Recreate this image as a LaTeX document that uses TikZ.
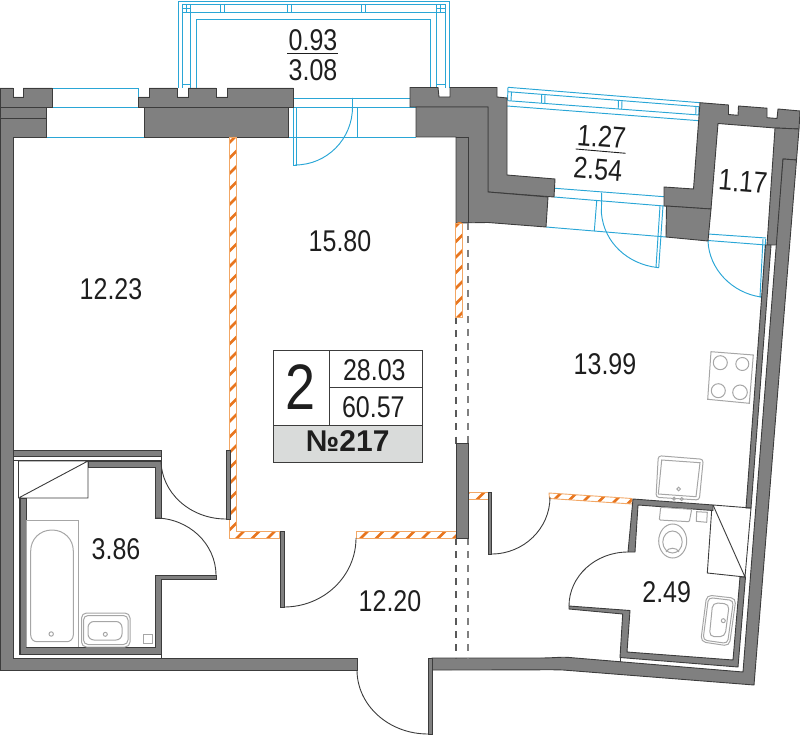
\documentclass[tikz,border=0pt]{standalone}
\usepackage{fontspec}
\setmainfont{Liberation Sans}
\usetikzlibrary{calc}
\definecolor{wallgray}{HTML}{808080}
\definecolor{walledge}{HTML}{3C3C3C}
\definecolor{planblue}{HTML}{2AA6D6}
\definecolor{fixgray}{HTML}{A6A6A6}
\definecolor{hatchorange}{HTML}{E8751E}
\definecolor{hatchedge}{HTML}{F2A765}
\definecolor{labelgray}{HTML}{D9DBDA}
\definecolor{inktext}{HTML}{1E1E1E}
\tikzset{
  wall/.style={fill=wallgray,draw=walledge,line width=0.9pt,line join=miter},
  bl/.style={draw=planblue,line width=0.95pt},
  thinline/.style={draw=walledge,line width=0.9pt},
  arcline/.style={draw=walledge,line width=0.9pt},
  fixture/.style={draw=fixgray,line width=1pt},
  dashA/.style={draw=walledge!85!white,line width=1.3pt,dash pattern=on 7pt off 6.3pt},
  dashB/.style={draw=wallgray,line width=2pt,dash pattern=on 7pt off 6.3pt},
  lab/.style={font=\fontsize{25}{25}\selectfont,text=inktext,inner sep=0pt,anchor=center},
  tall/.style={lab,yscale=1.2},
}
\newcommand{\doorarc}[4][arcline]{\draw[#1] #2 .. controls ($#2!0.5523!#3$) and ($#4!0.5523!#3$) .. #4;}
\newcommand{\hatched}[1]{%
  \begin{scope}\clip #1;
    \foreach \hc in {310,325.5,...,1300}{\draw[hatchorange,line width=2.7pt] (0,\hc) -- (\hc,0);}
  \end{scope}
  \draw[hatchedge,line width=0.9pt] #1;}
\begin{document}
\begin{tikzpicture}[x=1pt,y=-1pt]
\useasboundingbox (0,0) rectangle (800,735);
% --- balcony 1
\draw[bl] (178,88) -- (178,1) -- (449,1) -- (449,88);
\draw[bl] (182,88) -- (182,4) -- (445,4) -- (445,88);
\draw[bl] (190.5,88) -- (190.5,12.7) -- (436,12.7) -- (436,88);
\draw[bl] (182,12.7) -- (190.5,12.7) (190.5,4) -- (190.5,12.7) (436,4) -- (436,12.7) (436,12.7) -- (445,12.7);
\draw[bl] (186.5,4) -- (186.5,12.7) (182,8.5) -- (190.5,8.5) (440.5,4) -- (440.5,12.7) (436,8.5) -- (445,8.5);
\draw[bl] (182,84) -- (190.5,84) (436,84) -- (445,84);
\draw[bl] (196.7,88) -- (196.7,19) -- (430,19) -- (430,88);
\draw[bl] (220.7,4) -- (220.7,12.7) (224,4) -- (224,12.7) (287.5,4) -- (287.5,12.7) (291.7,4) -- (291.7,12.7) (361.7,4) -- (361.7,12.7) (365.7,4) -- (365.7,12.7);
% --- top window and entry door to balcony 1
\draw[bl] (52,88) -- (138.5,88) -- (138.5,97);
\draw[bl] (46,107) -- (144,107) (46,137) -- (144,137);
\draw[bl] (288,98) -- (410,98) (288,107) -- (416,107) (288,137) -- (416,137);
\draw[bl] (357,107) -- (357,137);
\draw[bl] (293,107) -- (293,165) -- (296,165) -- (296,107);
\draw[bl] (352.5,98) -- (352.5,107) .. controls (352.5,139) and (327,165) .. (295,165);
% --- balcony 2
\draw[bl] (508,87.3) -- (700,102.7) (508,91.7) -- (699,106.7) (508,100.7) -- (699,115) (507,106) -- (699,120.7);
\draw[bl] (508,87.3) -- (507.5,100.7) (511.5,92) -- (511,100.7) (541.7,94.5) -- (541.5,103) (545,94.7) -- (544.8,103.5) (618.5,100.5) -- (618.2,109) (622,100.8) -- (621.7,109.3) (696,106.5) -- (695.7,115) (699,106.7) -- (698.7,115);
\draw[bl] (555,188.3) -- (664,196.7) (554,197) -- (664,206) (546,227) -- (666,237);
\draw[bl] (596.7,201) -- (594.3,231) (601.7,192.7) -- (601.4,213);
\draw[bl] (660,206) -- (656,267.3) -- (658.7,267.7) -- (663,206);
\draw[bl] (601.4,213) .. controls (604,243) and (628,264) .. (657,267.5);
\draw[bl] (708,234) -- (766,238) (708,240.5) -- (766,245);
\draw[bl] (763,239) -- (760,297) -- (762,297) -- (765.6,239);
\draw[bl] (708,241) .. controls (709,269) and (732,293) .. (761,297);
% --- walls, left and top
\draw[wall] (0,88) -- (13,88) -- (13,97) -- (23,97) -- (23,88) -- (52,88) -- (52,107) -- (0,107) -- cycle;
\draw[wall] (0,107) -- (46,107) -- (46,118) -- (0,118) -- cycle;
\draw[wall] (0,118) -- (46,118) -- (46,137) -- (13,137) -- (13,658) -- (357,658) -- (357,670) -- (0,670) -- cycle;
\draw[wall] (138.5,97) -- (149,97) -- (149,88) -- (177,88) -- (177,97) -- (188,97) -- (188,88) -- (216,88) -- (216,97) -- (227,97) -- (227,88) -- (293.5,88) -- (293.5,107) -- (138.5,107) -- cycle;
\draw[wall] (144,107) -- (288,107) -- (288,137) -- (144,137) -- cycle;
% --- walls, centre top
\draw[wall] (410,87.5) -- (438,87.5) -- (439,97) -- (450,97) -- (450,87.5) -- (497,87.5) -- (497,97) -- (507,98) -- (507,175) -- (555,179) -- (554,197) -- (488,192) -- (488,107) -- (410,107) -- cycle;
\draw[wall] (416,107) -- (488,107) -- (488,192) -- (548,197) -- (546,227) -- (488,222.5) -- (456,223) -- (456,137) -- (416,137) -- cycle;
\draw[thinline] (468,137) -- (468,223) (456,137) -- (468,137);
% --- walls, top right
\draw[wall] (700,102.7) -- (728.5,105) -- (728.5,114.5) -- (738,115.3) -- (738.5,106) -- (767,108.2) -- (767,117.7) -- (777,118.5) -- (778,109) -- (800,111) -- (799,129) -- (775,128) -- (718,123.5) -- (711,209) -- (664,206) -- (664,187) -- (693.5,189) -- cycle;
\draw[wall] (666.5,206) -- (711,209) -- (708,241) -- (666,237) -- cycle;
\draw[wall] (775,128) -- (799,129) -- (796.5,160) -- (783,159) -- (777,245) -- (767,245) -- cycle;
\draw[wall] (783,159) -- (796.5,160) -- (754,685) -- (563,670) .. controls (550,669.5) and (545,670) .. (432,670) -- (432,658) -- (540,658) .. controls (552,658) and (560,657) .. (567,657.3) -- (743,672) -- cycle;
\draw[wall] (765.5,245) -- (771,245) -- (751,508) -- (746,508) -- cycle;
% --- dashed lines
\draw[dashA] (456,317) -- (456,444) (456,538) -- (456,658);
\draw[dashB] (468,223) -- (468,444) (468,538) -- (468,658);
% --- hatched partitions
\hatched{(229,137) -- (236,137) -- (236,531.7) -- (279,531.7) -- (279,538.3) -- (229,538.3) -- cycle}
\hatched{(356,531.5) -- (456,531.5) -- (456,538) -- (356,538) -- cycle}
\hatched{(455,223) -- (462,223) -- (462,317) -- (455,317) -- cycle}
\hatched{(468.5,492.7) -- (488,492.7) -- (488,499) -- (468.5,499) -- cycle}
\hatched{(549,493) -- (632,498.5) -- (632,504) -- (549.5,498.5) -- cycle}
% --- interior walls
\draw[wall] (456,443.5) rectangle (468,538);
\draw[wall] (226,450) rectangle (230,519);
\draw[wall] (280,531.5) rectangle (284,607.5);
\draw[wall] (488,492.7) rectangle (491.5,554);
\draw[wall] (428,658) rectangle (432,734);
\draw[wall] (13,450) rectangle (161,456.5);
\draw[thinline] (13,460) -- (161,460) (161,456.5) -- (161,461) (161,654) -- (161,658) (19,654) -- (161,654) (19,654) -- (19,498);
% bathroom 1 walls
\draw[wall] (88,461) -- (161,461) -- (161,518) -- (155,518) -- (155,467) -- (88,467) -- cycle;
\draw[wall] (155,575.5) -- (216,575.5) -- (216,579) -- (161,579) -- (161,654) -- (20,654) -- (20,498) -- (26,498) -- (26,647) -- (155,647) -- cycle;
\draw[thinline] (18.5,461) -- (88,461) -- (88,498) -- (18.5,498) -- cycle (19.5,497.5) -- (88,461);
% bathroom 2 walls
\draw[wall] (633,499) -- (713,505) -- (713,510.5) -- (638,505) -- (635,552) -- (628,552) -- cycle;
\draw[wall] (569,606) -- (630,610.5) -- (627,652) -- (733,660) -- (740,577) -- (745.5,577) -- (738,667) -- (620,657.5) -- (622.7,614) -- (569,609) -- cycle;
\draw[thinline] (620,657.5) -- (620,662);
\draw[thinline] (713,505) -- (751,508) -- (745,577) (711.7,510) -- (707.3,573) -- (745,577) -- (713,505);
% --- door swings
\doorarc{(161,460)}{(161,519)}{(226,519)}
\doorarc{(155,518)}{(216,518)}{(216,575.5)}
\doorarc{(356,538)}{(356,607)}{(284,607)}
\doorarc{(491.5,554)}{(550,554)}{(550,497)}
\doorarc{(628,552)}{(569,552)}{(569,606)}
\doorarc{(357,670)}{(357,734)}{(428,734)}
% --- bathroom 1 fixtures
\draw[fixture] (26.7,647) -- (26.7,520.7) -- (78,520.7) -- (78,647);
\draw[fixture] (30.7,551) .. controls (30.7,539) and (40,530) .. (52,530) .. controls (64,530) and (73.3,539) .. (73.3,551) -- (73.3,635) .. controls (73.3,639) and (70,641.7) .. (67,641.7) -- (37,641.7) .. controls (33.5,641.7) and (30.7,639) .. (30.7,635) -- cycle;
\draw[fixture] (51.2,634) circle (2.2);
\draw[fixture,rounded corners=5pt] (81.5,613) -- (130,613) -- (130,647) -- (81.5,647) -- cycle;
\draw[fixture,rounded corners=4.5pt] (83.5,615.5) -- (128,615.5) -- (128,644.5) -- (83.5,644.5) -- cycle;
\draw[fixture,rounded corners=6pt] (88,621.5) -- (122,621.5) -- (122,640) -- (88,640) -- cycle;
\draw[fixture] (105.3,634.3) circle (2);
\draw[fixture] (143,634) rectangle (152,643);
% --- kitchen fixtures
\draw[fixture] (711,351.7) -- (753.3,355) -- (749.3,403.3) -- (707.7,399.3) -- cycle;
\draw[fixture] (720.3,362.7) circle (7) (742.3,364) circle (6.5) (718.3,390.7) circle (7) (740,392.3) circle (7.3);
\draw[fixture,rounded corners=3pt] (658.3,455.7) -- (703.3,459.3) -- (699.3,500) -- (656,497.3) -- cycle;
\draw[fixture] (661.7,460) -- (700,462.7) -- (696,496.7) -- (658.3,494) -- cycle;
\draw[fixture] (678.7,489) circle (1.8) (674,498.7) circle (1.5) (681.7,499) circle (1.5);
% --- toilet
\draw[fixture] (696.7,511.7) -- (707.3,512.3) -- (706.7,522.3) -- (696.3,521.3) -- cycle;
\draw[fixture,rounded corners=1pt] (660.7,507.3) -- (691.7,509.3) -- (689.3,521.7) -- (659.3,520) -- cycle;
\draw[fixture] (672.7,541) ellipse[x radius=14,y radius=17];
\draw[fixture] (672.5,542) ellipse[x radius=9.7,y radius=11];
\draw[fixture] (666,552) .. controls (668,547) and (677,547) .. (679,552);
% --- bathroom 2 sink
\draw[fixture,rounded corners=5pt] (706.7,595) -- (736,598.3) -- (729.3,646) -- (700.7,641.7) -- cycle;
\draw[fixture,rounded corners=4pt] (708.5,597.5) -- (733.5,600.5) -- (727.5,643.5) -- (703,640) -- cycle;
\draw[fixture,rounded corners=5pt] (712.7,602.7) -- (729.3,604) -- (725,636.7) -- (709.3,636.7) -- cycle;
\draw[fixture] (723.3,620.7) circle (2);
% --- room labels
\node[tall] (balconyOneA) at (313,40) {0.93};
\node[tall] (balconyOneB) at (313,70) {3.08};
\draw[draw=inktext,line width=0.9pt] (287,53.5) -- (337.7,53.5);
\node[rotate=-4.7,tall] (balconyTwoA) at (601.7,136.7) {1.27};
\node[rotate=-4.7,tall] (balconyTwoB) at (598,169) {2.54};
\draw[draw=inktext,line width=0.9pt] (575.7,149) -- (625.7,153.3);
\node[rotate=-4.7,tall] (closet) at (743,181.7) {1.17};
\node[tall] (roomA) at (340,241) {15.80};
\node[tall] (roomB) at (111,289) {12.23};
\node[tall] (roomC) at (605,364) {13.99};
\node[tall] (roomD) at (116,549) {3.86};
\node[tall] (roomE) at (390,601) {12.20};
\node[tall] (roomF) at (666.7,591.7) {2.49};
% --- info box
\draw[draw=walledge,line width=0.9pt,fill=white] (273.3,350) rectangle (422.7,425);
\draw[draw=walledge,line width=0.9pt,fill=labelgray] (273.3,425) rectangle (422.7,462.7);
\draw[draw=walledge,line width=0.9pt] (329.3,350) -- (329.3,425) (329.3,387.7) -- (422.7,387.7);
\node[lab,font=\fontsize{54}{54}\selectfont,yscale=1.19] (roomsCount) at (301,386.7) {2};
\node[tall] (livingArea) at (374.3,370) {28.03};
\node[tall] (totalArea) at (373.3,406.7) {60.57};
\node[lab,font=\fontsize{30}{30}\selectfont\bfseries] (flatNo) at (347.7,441) {№217};
\end{tikzpicture}
\end{document}
